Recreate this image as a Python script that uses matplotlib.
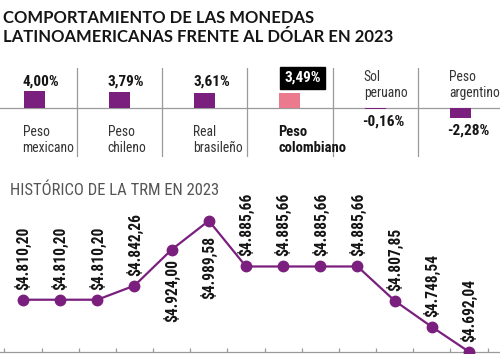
import os
import matplotlib
matplotlib.use("Agg")
import matplotlib.pyplot as plt
from matplotlib import font_manager as fm
import numpy as np

# ---------------- data ----------------
title_lines = ["COMPORTAMIENTO DE LAS MONEDAS",
               "LATINOAMERICANAS FRENTE AL DÓLAR EN 2023"]
currencies = ["Peso\nmexicano", "Peso\nchileno", "Real\nbrasileño",
              "Peso\ncolombiano", "Sol\nperuano", "Peso\nargentino"]
changes = [4.00, 3.79, 3.61, 3.49, -0.16, -2.28]
change_labels = ["4,00%", "3,79%", "3,61%", "3,49%", "-0,16%", "-2,28%"]
highlight = "Peso\ncolombiano"

trm_subtitle = "HISTÓRICO DE LA TRM EN 2023"
trm_values = [4810.20, 4810.20, 4810.20, 4842.26, 4924.00, 4989.58,
              4885.66, 4885.66, 4885.66, 4885.66, 4807.85, 4748.54, 4692.04]
trm_labels = ["$4.810,20", "$4.810,20", "$4.810,20", "$4.842,26", "$4.924,00",
              "$4.989,58", "$4.885,66", "$4.885,66", "$4.885,66", "$4.885,66",
              "$4.807,85", "$4.748,54", "$4.692,04"]

# ---------------- fonts: find a narrow / condensed face ----------------
PREFS = ["liberationsansnarrow", "robotocondensed", "notosans-condensed",
         "notosanscondensed", "opensans_condensed", "opensanscondensed",
         "dejavusanscondensed", "notosans-semicondensed", "semicondensed", "condensed", "narrow"]


def find_narrow(bold):
    best = None
    for f in fm.fontManager.ttflist:
        base = os.path.basename(f.fname).lower().replace(" ", "")
        if "italic" in base or "oblique" in base or "extracondensed" in base:
            continue
        if not base.endswith((".ttf", ".otf")):
            continue
        rank = None
        for r, p in enumerate(PREFS):
            if p in base:
                rank = r
                break
        if rank is None:
            continue
        isbold = ("bold" in base and "semibold" not in base and "extrabold" not in base)
        other_weight = any(w in base for w in ["light", "thin", "medium", "black",
                                                "semibold", "extrabold", "extralight"])
        if bold and not isbold:
            continue
        if not bold and (isbold or other_weight):
            continue
        if best is None or rank < best[0]:
            best = (rank, f.fname)
    return best[1] if best else None


NARROW_REG = find_narrow(False)
NARROW_BOLD = find_narrow(True)


def fp(size, bold=False):
    path = NARROW_BOLD if bold else NARROW_REG
    if path:
        return fm.FontProperties(fname=path, size=size)
    return fm.FontProperties(family="DejaVu Sans", stretch="condensed",
                             weight="bold" if bold else "normal", size=size * 0.85)


TITLE_FONT = ["Lato", "DejaVu Sans"]
PURPLE = "#7b1f7f"
PINK = "#ec7a8f"
GREY = "#9a9a9a"

W, H = 500, 354
fig = plt.figure(figsize=(5, 3.54), dpi=100)
fig.patch.set_facecolor("white")


def fx(x):
    return x / W


def fy(y):
    return 1 - y / H


# title
fig.text(fx(3), fy(23), title_lines[0], family=TITLE_FONT, weight="bold",
         size=12, color="#151515", va="baseline", ha="left")
fig.text(fx(3), fy(41.5), title_lines[1], family=TITLE_FONT, weight="bold",
         size=12, color="#151515", va="baseline", ha="left")

# ---------------- bar panel ----------------
axb = fig.add_axes([0, fy(157), 1, (157 - 68) / H])
xb = np.arange(len(changes))
spacing_b = 85.3
bw = 21 / spacing_b
k = 4.2  # px per percentage point
axb.set_xlim(-34 / spacing_b, (W - 34) / spacing_b)
axb.set_ylim(-(157 - 108) / k, (108 - 68) / k)
cols = [PINK if c == highlight else PURPLE for c in currencies]
axb.bar(xb, changes, width=bw, color=cols, zorder=3)
axb.axhline(0, color=GREY, lw=0.9, zorder=2)
for i in range(len(changes) - 1):
    axb.axvline(i + 0.5, color=GREY, lw=0.9, zorder=1)
axb.axis("off")

for i, (c, v, lab) in enumerate(zip(currencies, changes, change_labels)):
    left = i - bw / 2
    is_hl = c == highlight
    if v >= 0:
        if is_hl:
            axb.annotate(lab, (left, v), xytext=(5, 11.5), textcoords="offset pixels",
                         ha="left", va="baseline", fontproperties=fp(11, True),
                         color="white",
                         bbox=dict(boxstyle="square,pad=0.28", fc="black", ec="black"))
        else:
            axb.annotate(lab, (left, 4.0), xytext=(-1, 6), textcoords="offset pixels",
                         ha="left", va="baseline", fontproperties=fp(11, True),
                         color="#151515")
        axb.annotate(c, (left, 0), xytext=(-1, -17), textcoords="offset pixels",
                     ha="left", va="top",
                     fontproperties=fp(10.5, True) if is_hl else fp(9.8),
                     color="#151515" if is_hl else "#333333", linespacing=1.2)
    else:
        axb.annotate(lab, (left, v), xytext=(-3, -6), textcoords="offset pixels",
                     ha="left", va="top", fontproperties=fp(11, True),
                     color="#151515")
        axb.annotate(c, (left, 0), xytext=(-1, 8), textcoords="offset pixels",
                     ha="left", va="bottom", fontproperties=fp(9.8),
                     color="#333333", linespacing=1.2)

# ---------------- line panel ----------------
fig.text(fx(10), fy(195), trm_subtitle, fontproperties=fp(12),
         color="#555555", va="baseline", ha="left")

axl = fig.add_axes([0, fy(352), 1, (352 - 200) / H])
xl = np.arange(len(trm_values))
spacing_l = (469 - 23) / 12
k2 = 0.4404
axl.set_xlim(-23 / spacing_l, (W - 23) / spacing_l)
ybot = 4691.5
axl.set_ylim(ybot, ybot + 152 / k2)
axl.plot(xl, trm_values, color=PURPLE, lw=1.6, marker="o", ms=7.5,
         mfc=PURPLE, mec=PURPLE, clip_on=False, zorder=3)
for s in ["top", "left", "right"]:
    axl.spines[s].set_visible(False)
axl.spines["bottom"].set_color(GREY)
axl.spines["bottom"].set_linewidth(0.9)
axl.set_xticks(np.arange(-0.5, len(trm_values), 1))
axl.set_yticks([])
axl.tick_params(axis="x", direction="in", length=3, color=GREY,
                labelbottom=False, width=0.9)
axl.patch.set_alpha(0)

below_offsets = {4: 9, 5: 15}
for i, (v, lab) in enumerate(zip(trm_values, trm_labels)):
    if i in below_offsets:
        axl.annotate(lab, (i, v), xytext=(0, -below_offsets[i]), textcoords="offset pixels",
                     rotation=90, ha="center", va="top", fontproperties=fp(11.2, True),
                     color="#151515")
    else:
        axl.annotate(lab, (i, v), xytext=(0, 10), textcoords="offset pixels",
                     rotation=90, ha="center", va="bottom", fontproperties=fp(11.2, True),
                     color="#151515")

fig.savefig("out.png", dpi=100, facecolor="white")
